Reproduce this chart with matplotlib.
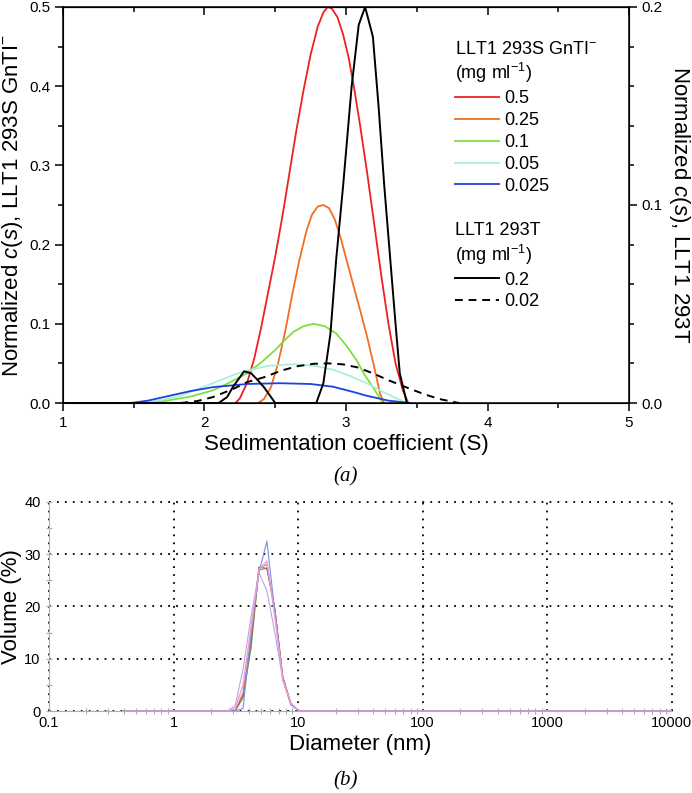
import numpy as np
import matplotlib
matplotlib.use('Agg')
import matplotlib.pyplot as plt
from matplotlib.ticker import MultipleLocator, LogLocator, NullFormatter, FixedLocator

plt.rcParams['font.family'] = ['Liberation Sans', 'DejaVu Sans']
plt.rcParams['mathtext.fontset'] = 'custom'
plt.rcParams['mathtext.rm'] = 'Liberation Sans'
plt.rcParams['mathtext.it'] = 'Liberation Sans:italic'

# ---- (a) c(s) distributions, LLT1 293S GnTI- (left axis) ----
s_05 = [2.22, 2.25, 2.30, 2.35, 2.40, 2.45, 2.50, 2.55, 2.60, 2.65, 2.70, 2.75, 2.80, 2.84, 2.87,
        2.90, 2.94, 2.98, 3.02, 3.06, 3.10, 3.15, 3.20, 3.25, 3.30, 3.35, 3.40, 3.44]
c_05 = [0.0, 0.006, 0.025, 0.055, 0.095, 0.14, 0.185, 0.235, 0.29, 0.345, 0.395, 0.44, 0.475,
        0.493, 0.50, 0.498, 0.487, 0.465, 0.435, 0.395, 0.35, 0.29, 0.225, 0.16, 0.10, 0.05,
        0.017, 0.0]

s_025 = [2.38, 2.42, 2.47, 2.52, 2.57, 2.62, 2.67, 2.72, 2.76, 2.80, 2.84, 2.88, 2.92, 2.96,
         3.00, 3.05, 3.10, 3.15, 3.20, 3.24, 3.27]
c_025 = [0.0, 0.005, 0.02, 0.05, 0.09, 0.137, 0.18, 0.217, 0.238, 0.248, 0.25, 0.246, 0.232,
         0.21, 0.183, 0.15, 0.117, 0.083, 0.045, 0.012, 0.0]

s_01 = [1.50, 1.70, 1.90, 2.06, 2.18, 2.30, 2.40, 2.50, 2.57, 2.63, 2.70, 2.77, 2.85, 2.93,
        3.00, 3.075, 3.13, 3.19, 3.26]
c_01 = [0.0, 0.002, 0.008, 0.016, 0.026, 0.0375, 0.051, 0.067, 0.08, 0.09, 0.097, 0.10, 0.097,
        0.088, 0.073, 0.054, 0.036, 0.02, 0.0]

s_005 = [1.55, 1.70, 1.83, 2.06, 2.20, 2.30, 2.45, 2.63, 2.78, 2.91, 3.03, 3.146, 3.25, 3.33, 3.43]
c_005 = [0.0, 0.004, 0.009, 0.025, 0.035, 0.041, 0.047, 0.049, 0.047, 0.042, 0.034, 0.025, 0.015,
         0.008, 0.0]

s_0025 = [1.48, 1.60, 1.75, 1.90, 2.06, 2.30, 2.53, 2.75, 2.91, 3.05, 3.15, 3.30, 3.45]
c_0025 = [0.0, 0.003, 0.009, 0.015, 0.02, 0.024, 0.025, 0.024, 0.0205, 0.014, 0.009, 0.003, 0.0]

# ---- LLT1 293T (right axis) ----
s_t02 = [1.0, 2.10, 2.16, 2.20, 2.23, 2.28, 2.33, 2.37, 2.42, 2.46, 2.50, 2.79, 2.84, 2.89, 2.93,
         2.98, 3.04, 3.09, 3.135, 3.19, 3.23, 3.27, 3.31, 3.35, 3.38, 3.43]
c_t02 = [0.0, 0.0, 0.003, 0.008, 0.011, 0.016, 0.015, 0.012, 0.008, 0.004, 0.0, 0.0, 0.01, 0.035,
         0.072, 0.11, 0.16, 0.191, 0.2, 0.185, 0.15, 0.11, 0.075, 0.04, 0.015, 0.0]

s_t002 = [1.83, 1.95, 2.06, 2.20, 2.30, 2.42, 2.55, 2.65, 2.77, 2.88, 2.98, 3.08, 3.19, 3.30,
          3.43, 3.55, 3.66, 3.80]
c_t002 = [0.0, 0.001, 0.003, 0.007, 0.0105, 0.013, 0.0165, 0.0185, 0.0198, 0.02, 0.0195, 0.018,
          0.015, 0.0115, 0.0078, 0.0045, 0.002, 0.0]

# ---- (b) DLS volume distributions ----
diam = [0.4, 2.696, 3.122, 3.615, 4.187, 4.849, 5.615, 6.503, 7.531, 8.721, 10.1, 11.7, 10000]
vol_blue = [0, 0, 0, 0.5, 15, 26.5, 32.5, 19, 6, 1.2, 0, 0, 0]
vol_red = [0, 0, 0, 3.5, 14, 27.5, 28, 19.5, 6.5, 1.5, 0, 0, 0]
vol_brown = [0, 0, 0, 3, 13, 27.5, 27.3, 19.5, 6.5, 1.5, 0, 0, 0]
vol_green = [0, 0, 0, 2.5, 12, 27, 27.3, 19.5, 6.5, 1.5, 0, 0, 0]
vol_pink = [0, 0, 0.5, 5, 16, 27, 28.7, 18, 6, 1.5, 0, 0, 0]
vol_lav = [0, 0, 1, 8, 18, 26.5, 23, 15, 6, 1.5, 0, 0, 0]

fig = plt.figure(figsize=(6.92, 7.93), dpi=100)

# ---------------- panel (a) ----------------
ax = fig.add_axes([0.091, 0.4918, 0.818, 0.4994])
ax.plot(s_05, c_05, color='#ee2020', lw=1.3, label='0.5')
ax.plot(s_025, c_025, color='#f07020', lw=1.3, label='0.25')
ax.plot(s_01, c_01, color='#7ee03c', lw=1.3, label='0.1')
ax.plot(s_005, c_005, color='#a8f0dc', lw=1.3, label='0.05')
ax.plot(s_0025, c_0025, color='#2040e0', lw=1.3, label='0.025')
ax.set_xlim(1, 5)
ax.set_ylim(0, 0.5)
ax.xaxis.set_major_locator(MultipleLocator(1))
ax.xaxis.set_minor_locator(MultipleLocator(0.5))
ax.yaxis.set_major_locator(MultipleLocator(0.1))
ax.yaxis.set_minor_locator(MultipleLocator(0.05))
ax.tick_params(which='both', direction='out', width=1.1, labelsize=11, right=False, top=False)
ax.tick_params(which='major', length=5.5)
ax.tick_params(which='minor', length=3.5)
for sp in ax.spines.values():
    sp.set_linewidth(1.1)
ax.set_xlabel('Sedimentation coefficient (S)', fontsize=16, labelpad=3)
ax.set_ylabel(r'Normalized $c$($s$), LLT1 293S GnTI$^{-}$', fontsize=16, labelpad=3)

sec = ax.secondary_xaxis('top')
sec.set_xticks([1, 2, 3, 4, 5])
sec.xaxis.set_minor_locator(MultipleLocator(0.5))
sec.tick_params(which='both', direction='in', labeltop=False, width=1.1)
sec.tick_params(which='major', length=5.5)
sec.tick_params(which='minor', length=3.5)

ax2 = ax.twinx()
ax2.plot(s_t02, c_t02, color='black', lw=1.4, label='0.2')
ax2.plot(s_t002, c_t002, color='black', lw=1.4, ls=(0, (4, 3)), label='0.02')
ax2.set_ylim(0, 0.2)
ax2.yaxis.set_major_locator(MultipleLocator(0.1))
ax2.yaxis.set_minor_locator(MultipleLocator(0.02))
ax2.tick_params(which='both', direction='out', width=1.1, labelsize=11)
ax2.tick_params(which='major', length=5.5)
ax2.tick_params(which='minor', length=3.5)
ax2.set_ylabel(r'Normalized $c$($s$), LLT1 293T', fontsize=16, rotation=270, labelpad=21)

h1, l1 = ax.get_legend_handles_labels()
leg1 = ax2.legend(h1, l1, title='LLT1 293S GnTI$^{-}$\n(mg ml$^{-1}$)', loc='upper left',
                  bbox_to_anchor=(0.693, 0.915), frameon=False, fontsize=13, title_fontsize=13,
                  handlelength=2.4, handletextpad=0.3, labelspacing=0.27, borderpad=0,
                  borderaxespad=0, alignment='left')
ax2.add_artist(leg1)
h2, l2 = ax2.get_legend_handles_labels()
ax2.legend(h2, l2, title='LLT1 293T\n(mg ml$^{-1}$)', loc='upper left',
           bbox_to_anchor=(0.693, 0.457), frameon=False, fontsize=13, title_fontsize=13,
           handlelength=2.4, handletextpad=0.3, labelspacing=0.27, borderpad=0,
           borderaxespad=0, alignment='left')

fig.text(0.5, 1 - 477 / 793, '(a)', fontsize=15, family='Liberation Serif', style='italic',
         ha='center', va='center')

# ---------------- panel (b) ----------------
bx = fig.add_axes([0.0708, 0.1034, 0.900, 0.2636])
bx.plot(diam, vol_lav, color='#c8a0e0', lw=0.8)
bx.plot(diam, vol_green, color='#70a050', lw=0.8)
bx.plot(diam, vol_brown, color='#8a5a3a', lw=0.8)
bx.plot(diam, vol_red, color='#e07070', lw=0.8)
bx.plot(diam, vol_blue, color='#7890e8', lw=0.8)
bx.plot(diam, vol_pink, color='#e8a0d8', lw=1.0)
bx.set_xscale('log')
bx.set_xlim(0.1, 10000)
bx.set_ylim(0, 40)
bx.xaxis.set_major_locator(FixedLocator([0.1, 1, 10, 100, 1000, 10000]))
bx.set_xticklabels(['0.1', '1', '10', '100', '1000', '10000'])
bx.xaxis.set_minor_locator(LogLocator(base=10, subs=np.arange(2, 10)))
bx.xaxis.set_minor_formatter(NullFormatter())
bx.yaxis.set_major_locator(MultipleLocator(10))
bx.yaxis.set_minor_locator(MultipleLocator(5))
bx.grid(True, which='major', color='black', ls=(0, (1, 3.4)), lw=1.3)
bx.tick_params(which='both', direction='inout', color='#9fb3bb', labelsize=10.5, width=0.8)
bx.tick_params(which='major', length=5)
bx.tick_params(which='minor', length=4)
bx.tick_params(axis='x', which='major', length=0)
bx.spines['top'].set_visible(False)
bx.spines['right'].set_visible(False)
bx.spines['left'].set_color('#9fb3bb')
bx.spines['bottom'].set_color('#9fb3bb')
bx.set_xlabel('Diameter (nm)', fontsize=16, labelpad=3)
bx.set_ylabel('Volume (%)', fontsize=16, labelpad=2)
for gl in bx.get_xgridlines() + bx.get_ygridlines():
    gl.set_clip_on(False)

fig.text(0.5, 1 - 781 / 793, '(b)', fontsize=15, family='Liberation Serif', style='italic',
         ha='center', va='center')

fig.savefig('out.png', dpi=100)
